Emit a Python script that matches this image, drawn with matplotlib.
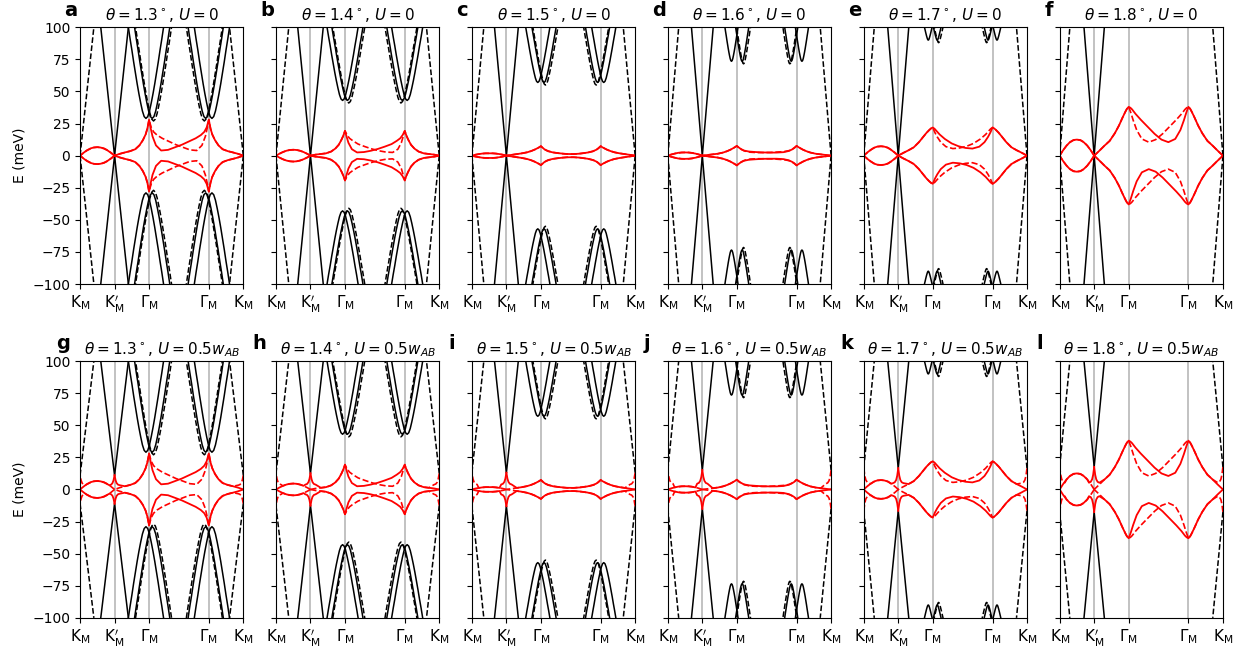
import numpy as np
import matplotlib.pyplot as plt

# twist angles, one column each; top row U = 0, bottom row U = 0.5 w_AB
thetas = [1.3, 1.4, 1.5, 1.6, 1.7, 1.8]
letters_top = ['a', 'b', 'c', 'd', 'e', 'f']
letters_bottom = ['g', 'h', 'i', 'j', 'k', 'l']

# high-symmetry points along the path (units of |K_M|)
path_ticks = [0.0, 1.0, 2.0, 3.732, 4.732]
path_labels = [r'$\mathrm{K_M}$', r"$\mathrm{K_M'}$", r'$\Gamma_\mathrm{M}$',
               r'$\Gamma_\mathrm{M}$', r'$\mathrm{K_M}$']
y_ticks = [-100, -75, -50, -25, 0, 25, 50, 75, 100]

# Dirac cones: k-distance from the vertex where |E| reaches 100 meV
cone_reach = [0.40, 0.37, 0.345, 0.315, 0.305, 0.295]
# vertex energy of the gapped cones / red cusp at K_M' for U = 0.5 w_AB
cusp_gap = [11.0, 12.5, 13.0, 15.0, 16.5, 17.5]
cusp_dk = [0.15, 0.10, 0.06, 0.03, 0.0]
cusp_frac = [0.30, 0.34, 0.45, 0.65, 1.0]

# remote bands around Gamma_M (meV, k units)
remote_gap = [29, 43, 57, 73.5, 90, None]
remote_shift = [0.09, 0.07, 0.09, 0.155, 0.13, 0.13]
remote_width = [0.51, 0.45, 0.35, 0.19, 0.11, 0.10]
remote_s = [0, 0.1, 0.2, 0.3, 0.4, 0.5, 0.6, 0.7, 0.8, 0.9, 1.0, 1.1, 1.2, 1.3, 1.4]
remote_e = [0, 0.02, 0.08, 0.17, 0.27, 0.38, 0.50, 0.62, 0.75, 0.87, 1.0, 1.13, 1.26, 1.39, 1.52]

# flat (red) upper band: K_M -> K_M' lens
lens_k = [0, 0.1, 0.2, 0.3, 0.4, 0.5, 0.6, 0.7, 0.8, 0.9, 1.0]
lens_E = [
    [0, 2.2, 4.2, 5.6, 6.4, 6.6, 6.3, 5.4, 4.0, 2.1, 0],
    [0, 1.5, 2.8, 3.8, 4.4, 4.6, 4.4, 3.8, 2.8, 1.5, 0],
    [0, 0.7, 1.2, 1.6, 1.8, 1.8, 1.8, 1.6, 1.2, 0.7, 0],
    [0, 0.9, 1.6, 2.2, 2.5, 2.5, 2.4, 2.1, 1.6, 0.9, 0],
    [0, 2.4, 4.5, 6.2, 7.1, 7.3, 7.0, 6.1, 4.4, 2.3, 0],
    [0, 4.2, 7.8, 10.6, 12.2, 12.5, 12.0, 10.4, 7.8, 4.2, 0],
]
# K_M' -> Gamma_M
rise_k = [1.0, 1.15, 1.3, 1.45, 1.6, 1.72, 1.82, 1.9, 1.95, 2.0]
rise_E = [
    [0, 1.4, 2.5, 3.5, 5.0, 8.0, 12.0, 16.5, 21.0, 28.0],
    [0, 0.8, 1.3, 1.8, 3.2, 5.5, 8.5, 12.5, 15.5, 19.3],
    [0, 0.6, 1.2, 1.8, 2.6, 3.6, 4.7, 5.8, 6.5, 7.4],
    [0, 0.5, 1.0, 1.5, 2.4, 3.5, 4.7, 5.9, 6.7, 7.6],
    [0, 2.2, 4.2, 6.5, 10.5, 14.5, 17.8, 20.0, 21.2, 21.9],
    [0, 3.8, 7.8, 11.5, 17.5, 23.5, 29.5, 34.0, 36.5, 38.0],
]
# Gamma_M -> Gamma_M
mid_k = [2.0, 2.05, 2.1, 2.2, 2.35, 2.55, 2.75, 2.95, 3.15, 3.35, 3.5, 3.6, 3.67, 3.732]
mid_E = [
    [28.0, 21.0, 15.0, 8.0, 4.0, 4.5, 6.5, 8.5, 11.0, 13.5, 16.0, 18.5, 22.0, 28.0],
    [19.3, 14.5, 10.0, 5.0, 2.5, 2.8, 3.8, 5.2, 7.0, 9.0, 11.5, 13.5, 16.0, 19.3],
    [7.4, 6.2, 5.0, 3.5, 2.5, 1.8, 1.3, 1.2, 1.6, 2.4, 3.4, 4.5, 5.8, 7.4],
    [7.6, 6.5, 5.5, 4.0, 3.2, 2.8, 2.5, 2.4, 2.4, 2.7, 3.6, 4.8, 6.0, 7.6],
    [21.9, 21.0, 19.5, 16.5, 13.0, 9.5, 7.3, 6.0, 5.5, 7.0, 10.5, 14.5, 18.0, 21.9],
    [38.0, 37.3, 36.0, 32.5, 28.0, 22.5, 17.0, 12.5, 10.5, 13.0, 20.0, 27.5, 33.5, 38.0],
]
# hole band between the Gamma_M points follows the other valley
hole_flipped = [False, False, False, False, True, True]

k_end = path_ticks[-1]
k_mirror = path_ticks[1] + k_end  # valley partner: k -> 5.732 - k


def red_band(i, gap, flip=False):
    """Flat band of one valley as (lens, main) point lists (|E| values)."""
    lk, lE = list(lens_k), list(lens_E[i])
    mid = list(zip(mid_k, mid_E[i]))
    if flip:
        mid = [(k_mirror - k, e) for k, e in mid[::-1]]
    right = [(k_mirror - k, e) for k, e in zip(rise_k[::-1], rise_E[i][::-1])]
    main = list(zip(rise_k, rise_E[i])) + mid[1:] + right[1:]
    lens = list(zip(lk, lE))
    if gap > 0:
        lens = [(k, e) for k, e in lens if k < 0.84]
        lens += [(1 - d, gap * c) for d, c in zip(cusp_dk, cusp_frac)]
        cusp = [(1 + d, gap * c) for d, c in zip(cusp_dk[::-1], cusp_frac[::-1])]
        main = cusp + [(k, e) for k, e in main if k > 1.16]
    return lens, main


def draw_panel(ax, i, gap):
    ax.set_xlim(0, k_end)
    ax.set_ylim(-100, 100)
    for k in path_ticks[1:-1]:
        ax.axvline(k, color='0.72', lw=1.2, zorder=0)

    # Dirac cones: solid at K_M', dashed (other valley) at both K_M
    r = cone_reach[i]
    for sgn in (1, -1):
        ax.plot([1 - r, 1, 1 + r], [100 * sgn, gap * sgn, 100 * sgn], color='k', lw=1.1)
        ax.plot([0, r], [gap * sgn, 100 * sgn], color='k', lw=1.1, ls='--')
        ax.plot([k_end, k_end - r], [gap * sgn, 100 * sgn], color='k', lw=1.1, ls='--')

    # remote bands at both Gamma_M points
    if remote_gap[i] is not None:
        d0 = remote_gap[i]
        w = remote_width[i]
        s_full = np.array([-s for s in remote_s[::-1]] + remote_s[1:])
        e_full = np.array(remote_e[::-1] + remote_e[1:])
        for g_pt, side in ((path_ticks[2], 1), (path_ticks[3], -1)):
            for sgn in (1, -1):
                off_d = side * (remote_shift[i] + 0.04)
                ax.plot(g_pt + off_d + w * s_full, sgn * (d0 - 2 + (100 - d0) * e_full),
                        color='k', lw=1.1, ls='--')
                for off in (-remote_shift[i], remote_shift[i]):
                    ax.plot(g_pt + off + w * s_full, sgn * (d0 + (100 - d0) * e_full),
                            color='k', lw=1.1)

    # flat bands: solid valley and its mirrored partner (dashed)
    for sgn in (1, -1):
        lens, main = red_band(i, gap, flip=(sgn < 0 and hole_flipped[i]))
        lk, le = map(np.array, zip(*lens))
        mk, me = map(np.array, zip(*main))
        ax.plot(1 - lk, sgn * le, color='red', lw=1.2, ls='--')
        ax.plot(k_mirror - mk, sgn * me, color='red', lw=1.2, ls='--')
        ax.plot(lk, sgn * le, color='red', lw=1.3)
        ax.plot(mk, sgn * me, color='red', lw=1.3)

    ax.set_xticks(path_ticks)
    ax.set_xticklabels(path_labels, fontsize=11)
    ax.set_yticks(y_ticks)
    ax.tick_params(axis='y', labelsize=10)


fig, axes = plt.subplots(2, 6, figsize=(12.47, 6.49), dpi=100)
fig.subplots_adjust(left=0.0642, right=0.9807, top=0.958, bottom=0.048,
                    wspace=0.2, hspace=0.3)

for i, th in enumerate(thetas):
    ax_t = axes[0, i]
    draw_panel(ax_t, i, 0.0)
    ax_t.set_title(r'$\theta=%.1f^\circ$, $U=0$' % th, fontsize=11, pad=5)
    ax_t.text(-0.095, 1.03, letters_top[i], transform=ax_t.transAxes,
              fontsize=14, fontweight='bold', ha='left', va='bottom')

    ax_b = axes[1, i]
    draw_panel(ax_b, i, cusp_gap[i])
    ax_b.set_title(r'$\theta=%.1f^\circ$, $U=0.5w_{AB}$' % th, fontsize=11, pad=5)
    ax_b.text(-0.145, 1.03, letters_bottom[i], transform=ax_b.transAxes,
              fontsize=14, fontweight='bold', ha='left', va='bottom')

    if i == 0:
        ax_t.set_ylabel('E (meV)', fontsize=10)
        ax_b.set_ylabel('E (meV)', fontsize=10)
    else:
        ax_t.set_yticklabels([])
        ax_b.set_yticklabels([])

fig.savefig('out.png', dpi=100)
